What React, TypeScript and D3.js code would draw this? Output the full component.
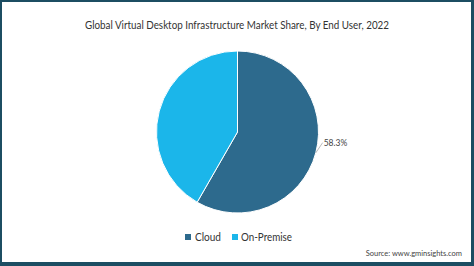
import React from "react";
import * as d3 from "d3";

const categories = ["Cloud", "On-Premise"];
const shares = [58.3, 41.7];
const colors = ["#2d6a8d", "#1bb6ea"];
const title = "Global Virtual Desktop Infrastructure Market Share, By End User, 2022";
const source = "Source: www.gminsights.com";

export default function App() {
  const W = 474, H = 266;
  const cx = 237.5, cy = 132, r = 81;
  const pie = d3.pie<number>().sort(null).value((d) => d)(shares);
  const arc = d3.arc<d3.PieArcDatum<number>>().innerRadius(0).outerRadius(r);
  const first = pie[0];
  const mid = (first.startAngle + first.endAngle) / 2;
  const p0 = [Math.sin(mid) * r, -Math.cos(mid) * r];
  const p1 = [Math.sin(mid) * (r + 3) + 4, -Math.cos(mid) * (r + 3) - 11];
  return (
    <svg width={W} height={H} style={{ position: "absolute", left: 0, top: 0 }}>
      <rect x={0} y={0} width={W} height={H} fill="#1c4d62" />
      <rect x={2} y={2} width={W - 5} height={H - 6} fill="#ffffff" />
      <text x={237} y={29} textAnchor="middle" fontFamily="Lato" fontSize={12} fill="#333" textLength={304} lengthAdjust="spacingAndGlyphs">
        {title}
      </text>
      <g transform={`translate(${cx},${cy})`}>
        {pie.map((d, i) => (
          <path key={i} d={arc(d) || ""} fill={colors[i]} stroke="#fff" strokeWidth={1} />
        ))}
        <polyline points={`${p0[0]},${p0[1]} ${p1[0]},${p1[1]}`} fill="none" stroke="#aaa" strokeWidth={0.8} />
        <text x={p1[0] + 1} y={p1[1] + 3} fontFamily="Lato" fontSize={8.5} fill="#444">
          {shares[0].toFixed(1)}%
        </text>
      </g>
      <g fontFamily="Lato" fontSize={11.5} fill="#333">
        <rect x={185} y={234} width={6} height={6} fill={colors[0]} />
        <text x={195} y={241} textLength={26} lengthAdjust="spacingAndGlyphs">{categories[0]}</text>
        <rect x={232} y={234} width={6} height={6} fill={colors[1]} />
        <text x={241} y={241} textLength={51} lengthAdjust="spacingAndGlyphs">{categories[1]}</text>
      </g>
      <text x={462} y={256} textAnchor="end" fontFamily="Lato" fontSize={7.5} fill="#444">
        {source}
      </text>
    </svg>
  );
}
